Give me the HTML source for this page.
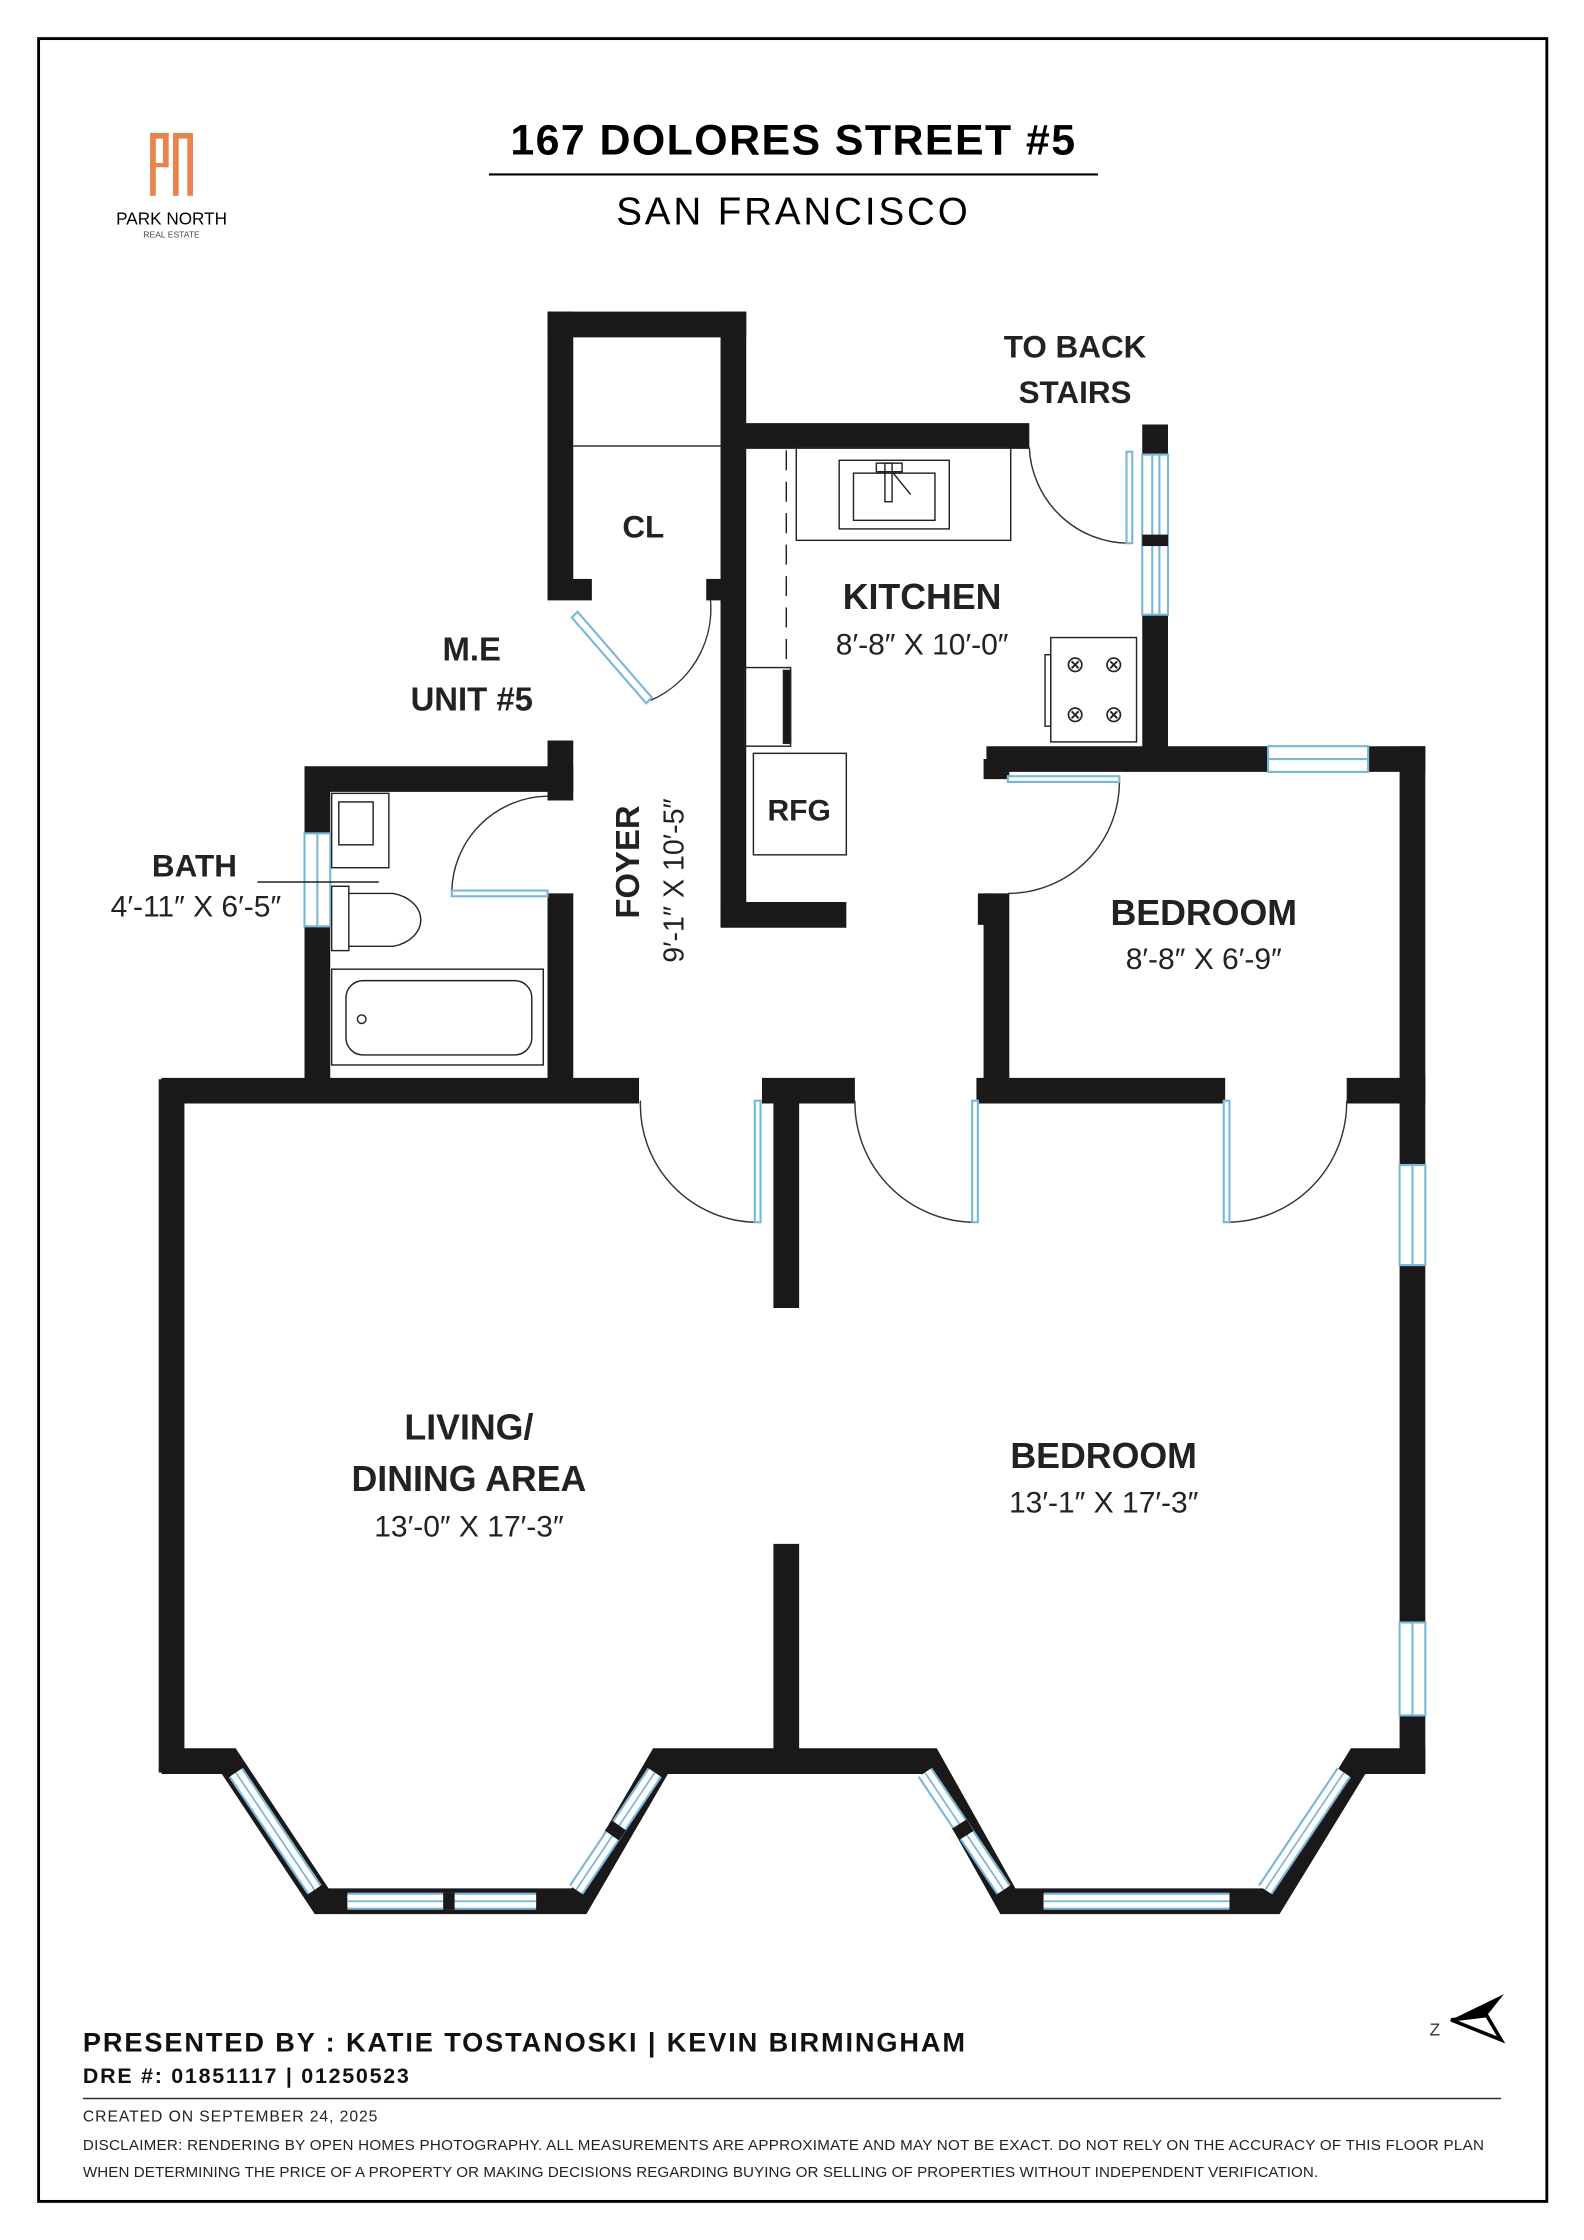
<!DOCTYPE html>
<html><head><meta charset="utf-8"><style>
html,body{margin:0;padding:0;background:#fff;}
svg{display:block;}
text{font-family:"Liberation Sans",sans-serif;}
</style></head><body>
<svg width="1584" height="2240" viewBox="0 0 1108 1567" preserveAspectRatio="none" xmlns="http://www.w3.org/2000/svg">
<rect x="27" y="27" width="1055" height="1513" fill="none" stroke="#000" stroke-width="2"/>
<!-- logo -->
<g fill="#e8844e">
<rect x="105" y="93" width="4" height="44"/><rect x="105" y="93" width="12" height="4"/><rect x="114" y="93" width="4" height="24"/><rect x="105" y="114" width="12" height="3"/>
<rect x="121" y="93" width="4" height="44"/><rect x="121" y="93" width="13" height="4"/><rect x="131" y="93" width="4" height="44"/>
</g>
<text x="120" y="157" font-size="12" text-anchor="middle">PARK NORTH</text>
<text x="120" y="166" font-size="6" text-anchor="middle" fill="#444">REAL ESTATE</text>
<!-- title -->
<text x="555" y="108" font-size="30" font-weight="bold" text-anchor="middle" letter-spacing="1">167 DOLORES STREET #5</text>
<line x1="342" y1="122" x2="768" y2="122" stroke="#000" stroke-width="1.5"/>
<text x="555" y="157" font-size="27" text-anchor="middle" letter-spacing="2">SAN FRANCISCO</text>

<!-- walls -->
<g stroke="#1a1818" stroke-width="18" fill="none" stroke-linecap="butt">
<path d="M392 218 V420"/><path d="M383 227 H522"/><path d="M513 218 V648"/>
<path d="M392 518 V560"/>
<path d="M213 545 H401"/><path d="M222 537 V770"/>
<path d="M392 625 V770"/>
<path d="M513 305 H720"/><path d="M808 297 V318"/><path d="M808 430 V530"/>
<path d="M504 640 H592"/>
<path d="M690 531 H997"/>
<path d="M697 545 V531"/><path d="M697 625 V770"/>
<path d="M988 522 V815"/><path d="M988 885 V1135"/><path d="M988 1200 V1240"/>
<path d="M113 763 H447"/><path d="M533 763 H598"/><path d="M683 763 H857"/><path d="M942 763 H997"/>
<path d="M120 755 V1240"/>
<path d="M550 755 V915"/><path d="M550 1080 V1232"/>
<path d="M113 1232 H160 L225 1330 H405 L462 1232 H650 L705 1330 H890 L950 1232 H997" stroke-linejoin="miter"/>
</g>
<rect x="684" y="625" width="10" height="22" fill="#1a1818"/>
<rect x="400" y="405" width="14" height="15" fill="#1a1818"/>
<rect x="494" y="405" width="12" height="15" fill="#1a1818"/>
<!-- windows -->
<g stroke="#7ab8d8" stroke-width="1.5" fill="#fff">
<rect x="799" y="318" width="18" height="112"/>
<line x1="806" y1="318" x2="806" y2="430"/><line x1="811" y1="318" x2="811" y2="430"/>
<rect x="887" y="522" width="70" height="18"/><line x1="887" y1="531" x2="957" y2="531"/>
<rect x="979" y="815" width="18" height="70"/><line x1="988" y1="815" x2="988" y2="885"/>
<rect x="979" y="1135" width="18" height="65"/><line x1="988" y1="1135" x2="988" y2="1200"/>
<rect x="213" y="583" width="18" height="65"/><line x1="222" y1="583" x2="222" y2="648"/>
</g>
<rect x="799" y="374" width="18" height="8" fill="#1a1818"/>
<!-- bottom windows -->
<g stroke-linecap="butt">
<g stroke="#7ab8d8" stroke-width="12">
<line x1="165" y1="1240" x2="220" y2="1322"/>
<line x1="243" y1="1330" x2="375" y2="1330"/>
<line x1="403" y1="1322" x2="458" y2="1240"/>
<line x1="647" y1="1240" x2="702" y2="1322"/>
<line x1="730" y1="1330" x2="860" y2="1330"/>
<line x1="885" y1="1322" x2="940" y2="1240"/>
</g>
<g stroke="#fff" stroke-width="9">
<line x1="165" y1="1240" x2="220" y2="1322"/>
<line x1="243" y1="1330" x2="375" y2="1330"/>
<line x1="403" y1="1322" x2="458" y2="1240"/>
<line x1="647" y1="1240" x2="702" y2="1322"/>
<line x1="730" y1="1330" x2="860" y2="1330"/>
<line x1="885" y1="1322" x2="940" y2="1240"/>
</g>
<g stroke="#7ab8d8" stroke-width="1.2">
<line x1="165" y1="1240" x2="220" y2="1322"/>
<line x1="243" y1="1330" x2="375" y2="1330"/>
<line x1="403" y1="1322" x2="458" y2="1240"/>
<line x1="647" y1="1240" x2="702" y2="1322"/>
<line x1="730" y1="1330" x2="860" y2="1330"/>
<line x1="885" y1="1322" x2="940" y2="1240"/>
</g>
</g>
<g stroke="#1a1818" stroke-width="12">
<line x1="310" y1="1330" x2="318" y2="1330"/>
<line x1="428" y1="1284" x2="433" y2="1277"/>
<line x1="671" y1="1276" x2="676" y2="1284"/>
</g>
<!-- doors -->
<g stroke="#333" stroke-width="1" fill="none">
<path d="M448 770 A82 82 0 0 0 530 855"/>
<path d="M598 770 A84 84 0 0 0 682 855"/>
<path d="M942 770 A84 84 0 0 1 858 855"/>
<path d="M783 545 A78 78 0 0 1 705 625"/>
<path d="M720 313 A70 70 0 0 0 790 380"/>
<path d="M455 490 A70 70 0 0 0 497 420"/>
<path d="M316 625 A68 68 0 0 1 383 557"/>
</g>
<g stroke="#7ab8d8" stroke-width="1.5" fill="#fff">
<rect x="528" y="770" width="4" height="85"/>
<rect x="680" y="770" width="4" height="85"/>
<rect x="856" y="770" width="4" height="85"/>
<rect x="705" y="543" width="78" height="4"/>
<rect x="788" y="316" width="4" height="64"/>
<rect x="316" y="623" width="67" height="4"/>
<path d="M400 432 L452 492 L456 488 L404 428 Z"/>
</g>
<line x1="401" y1="312" x2="504" y2="312" stroke="#333" stroke-width="1"/>
<!-- kitchen fixtures -->
<g stroke="#222" stroke-width="1" fill="none">
<line x1="550" y1="315" x2="550" y2="462" stroke-dasharray="14,8"/>
<rect x="557" y="313" width="150" height="65"/>
<rect x="587" y="322" width="77" height="48"/>
<rect x="597" y="331" width="57" height="33"/>
<rect x="613" y="324" width="18" height="6"/>
<rect x="619" y="324" width="5" height="27"/>
<line x1="624" y1="330" x2="637" y2="346"/>
<rect x="521" y="467" width="32" height="55"/>
<rect x="548" y="469" width="5" height="51" fill="#1a1818"/>
<rect x="527" y="527" width="65" height="71"/>
<rect x="735" y="446" width="60" height="73"/>
<rect x="731" y="458" width="4" height="50"/>
</g>
<g font-size="16" text-anchor="middle" fill="#222">
<text x="752" y="470">⊗</text><text x="779" y="470">⊗</text>
<text x="752" y="505">⊗</text><text x="779" y="505">⊗</text>
</g>
<!-- bath fixtures -->
<g stroke="#222" stroke-width="1" fill="none">
<rect x="232" y="555" width="40" height="52"/>
<rect x="237" y="561" width="24" height="30"/>
<rect x="232" y="620" width="12" height="45"/>
<path d="M244 625 H275 A25 19 0 0 1 275 662 H244"/>
<rect x="232" y="678" width="148" height="67"/>
<rect x="242" y="686" width="130" height="52" rx="12"/>
<circle cx="253" cy="713" r="3"/>
<line x1="180" y1="617" x2="265" y2="617"/>
</g>
<!-- labels -->
<g font-weight="bold" text-anchor="middle" fill="#222">
<text x="450" y="376" font-size="22">CL</text>
<text x="752" y="250" font-size="22">TO BACK</text>
<text x="752" y="282" font-size="22">STAIRS</text>
<text x="645" y="426" font-size="25">KITCHEN</text>
<text x="330" y="462" font-size="23">M.E</text>
<text x="330" y="497" font-size="23">UNIT #5</text>
<text x="559" y="574" font-size="21">RFG</text>
<text x="136" y="613" font-size="22">BATH</text>
<text x="842" y="647" font-size="25">BEDROOM</text>
<text x="328" y="1007" font-size="25">LIVING/</text>
<text x="328" y="1043" font-size="25">DINING AREA</text>
<text x="772" y="1027" font-size="25">BEDROOM</text>
</g>
<g text-anchor="middle" fill="#222" font-size="21">
<text x="645" y="458">8′-8″ X 10′-0″</text>
<text x="137" y="641">4′-11″ X 6′-5″</text>
<text x="842" y="678">8′-8″ X 6′-9″</text>
<text x="328" y="1075">13′-0″ X 17′-3″</text>
<text x="772" y="1058">13′-1″ X 17′-3″</text>
</g>
<text transform="translate(447,603) rotate(-90)" font-size="23" font-weight="bold" text-anchor="middle" fill="#222">FOYER</text>
<text transform="translate(478,616) rotate(-90)" font-size="20" text-anchor="middle" fill="#222">9′-1″ X 10′-5″</text>
<!-- compass -->
<text x="1000" y="1424" font-size="12" fill="#333">Z</text>
<path d="M1015 1413 L1052 1395 L1040 1410 Z" fill="#000"/>
<path d="M1015 1413 L1040 1410 L1050 1427 Z" fill="none" stroke="#000" stroke-width="2.5" stroke-linejoin="miter"/>
<!-- footer -->
<text x="58" y="1435" font-size="19" font-weight="bold" fill="#111" textLength="617">PRESENTED BY : KATIE TOSTANOSKI | KEVIN BIRMINGHAM</text>
<text x="58" y="1457" font-size="15" font-weight="bold" fill="#111" textLength="228">DRE #: 01851117 | 01250523</text>
<line x1="58" y1="1468" x2="1050" y2="1468" stroke="#333" stroke-width="1"/>
<text x="58" y="1484" font-size="11" fill="#222" textLength="206">CREATED ON SEPTEMBER 24, 2025</text>
<text x="58" y="1504" font-size="10.6" fill="#222" textLength="980">DISCLAIMER: RENDERING BY OPEN HOMES PHOTOGRAPHY. ALL MEASUREMENTS ARE APPROXIMATE AND MAY NOT BE EXACT. DO NOT RELY ON THE ACCURACY OF THIS FLOOR PLAN</text>
<text x="58" y="1523" font-size="10.6" fill="#222" textLength="864">WHEN DETERMINING THE PRICE OF A PROPERTY OR MAKING DECISIONS REGARDING BUYING OR SELLING OF PROPERTIES WITHOUT INDEPENDENT VERIFICATION.</text>
</svg>
</body></html>
